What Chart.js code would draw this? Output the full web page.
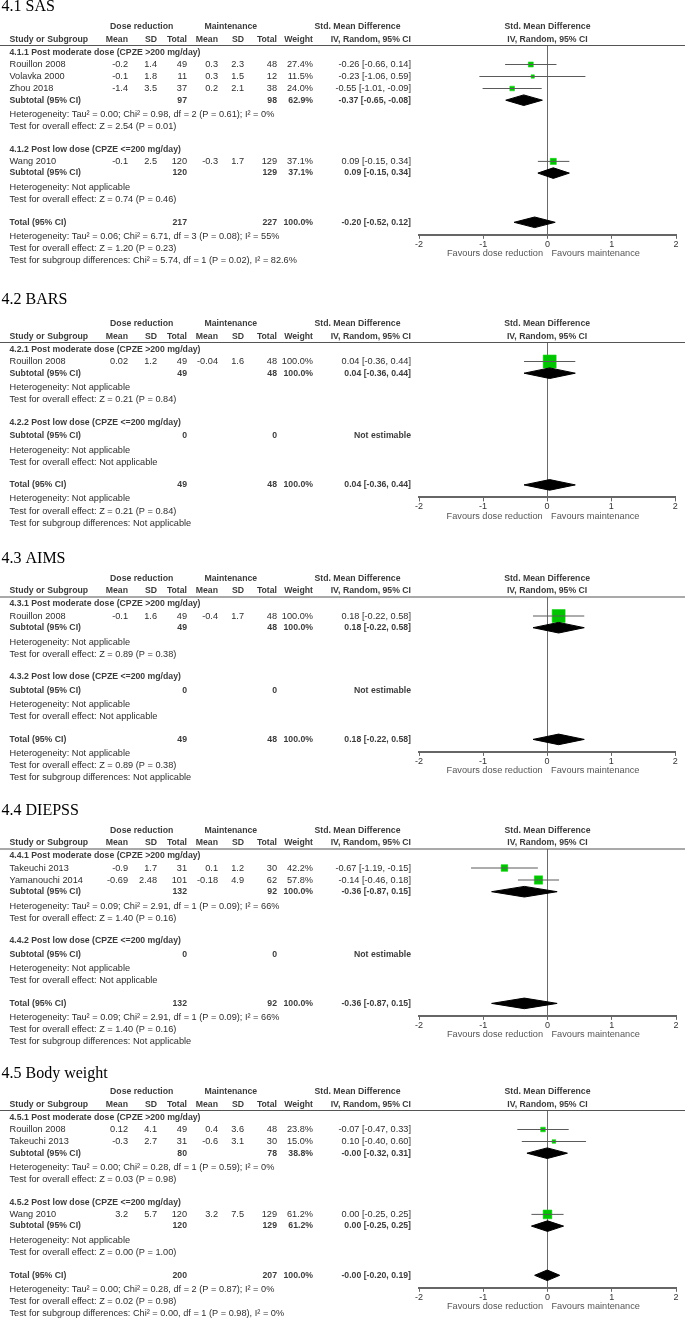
<!DOCTYPE html>
<html>
<head>
<meta charset="utf-8">
<script src="https://cdn.jsdelivr.net/npm/chart.js@4.4.1/dist/chart.umd.min.js"></script>
<style>
  html, body { margin: 0; padding: 0; background: #fff; }
  #page { position: relative; width: 685px; height: 1320px; overflow: hidden; }
  .panel { position: absolute; left: 0; width: 685px; }
</style>
</head>
<body>
<div id="page"></div>
<script>
// ------------------------------------------------------------
// Forest plots 4.1 - 4.5 (dose reduction vs maintenance)
// row: [type, label, ...]
//   study: mean1, sd1, n1, mean2, sd2, n2, weight, smd, lo, hi
//   sub / total: n1, n2, weight, smd, lo, hi  (null = not estimable)
// ------------------------------------------------------------

const PANEL_TITLES = ['4.1 SAS', '4.2 BARS', '4.3 AIMS', '4.4 DIEPSS', '4.5 Body weight'];

const SAS_ROWS = [
  ['head', '4.1.1 Post moderate dose (CPZE >200 mg/day)'],
  ['study', 'Rouillon 2008', -0.2, 1.4, 49, 0.3, 2.3, 48, 27.4, -0.26, -0.66, 0.14],
  ['study', 'Volavka 2000', -0.1, 1.8, 11, 0.3, 1.5, 12, 11.5, -0.23, -1.06, 0.59],
  ['study', 'Zhou 2018', -1.4, 3.5, 37, 0.2, 2.1, 38, 24.0, -0.55, -1.01, -0.09],
  ['sub', 'Subtotal (95% CI)', 97, 98, 62.9, -0.37, -0.65, -0.08],
  ['note', 'Heterogeneity: Tau² = 0.00; Chi² = 0.98, df = 2 (P = 0.61); I² = 0%'],
  ['note', 'Test for overall effect: Z = 2.54 (P = 0.01)'],
  ['head', '4.1.2 Post low dose (CPZE <=200 mg/day)'],
  ['study', 'Wang 2010', -0.1, 2.5, 120, -0.3, 1.7, 129, 37.1, 0.09, -0.15, 0.34],
  ['sub', 'Subtotal (95% CI)', 120, 129, 37.1, 0.09, -0.15, 0.34],
  ['note', 'Heterogeneity: Not applicable'],
  ['note', 'Test for overall effect: Z = 0.74 (P = 0.46)'],
  ['total', 'Total (95% CI)', 217, 227, 100.0, -0.20, -0.52, 0.12],
  ['note', 'Heterogeneity: Tau² = 0.06; Chi² = 6.71, df = 3 (P = 0.08); I² = 55%'],
  ['note', 'Test for overall effect: Z = 1.20 (P = 0.23)'],
  ['note', 'Test for subgroup differences: Chi² = 5.74, df = 1 (P = 0.02), I² = 82.6%'],
];

const BARS_ROWS = [
  ['head', '4.2.1 Post moderate dose (CPZE >200 mg/day)'],
  ['study', 'Rouillon 2008', 0.02, 1.2, 49, -0.04, 1.6, 48, 100.0, 0.04, -0.36, 0.44],
  ['sub', 'Subtotal (95% CI)', 49, 48, 100.0, 0.04, -0.36, 0.44],
  ['note', 'Heterogeneity: Not applicable'],
  ['note', 'Test for overall effect: Z = 0.21 (P = 0.84)'],
  ['head', '4.2.2 Post low dose (CPZE <=200 mg/day)'],
  ['sub', 'Subtotal (95% CI)', 0, 0, null, null, null, null],
  ['note', 'Heterogeneity: Not applicable'],
  ['note', 'Test for overall effect: Not applicable'],
  ['total', 'Total (95% CI)', 49, 48, 100.0, 0.04, -0.36, 0.44],
  ['note', 'Heterogeneity: Not applicable'],
  ['note', 'Test for overall effect: Z = 0.21 (P = 0.84)'],
  ['note', 'Test for subgroup differences: Not applicable'],
];

const AIMS_ROWS = [
  ['head', '4.3.1 Post moderate dose (CPZE >200 mg/day)'],
  ['study', 'Rouillon 2008', -0.1, 1.6, 49, -0.4, 1.7, 48, 100.0, 0.18, -0.22, 0.58],
  ['sub', 'Subtotal (95% CI)', 49, 48, 100.0, 0.18, -0.22, 0.58],
  ['note', 'Heterogeneity: Not applicable'],
  ['note', 'Test for overall effect: Z = 0.89 (P = 0.38)'],
  ['head', '4.3.2 Post low dose (CPZE <=200 mg/day)'],
  ['sub', 'Subtotal (95% CI)', 0, 0, null, null, null, null],
  ['note', 'Heterogeneity: Not applicable'],
  ['note', 'Test for overall effect: Not applicable'],
  ['total', 'Total (95% CI)', 49, 48, 100.0, 0.18, -0.22, 0.58],
  ['note', 'Heterogeneity: Not applicable'],
  ['note', 'Test for overall effect: Z = 0.89 (P = 0.38)'],
  ['note', 'Test for subgroup differences: Not applicable'],
];

const DIEPSS_ROWS = [
  ['head', '4.4.1 Post moderate dose (CPZE >200 mg/day)'],
  ['study', 'Takeuchi 2013', -0.9, 1.7, 31, 0.1, 1.2, 30, 42.2, -0.67, -1.19, -0.15],
  ['study', 'Yamanouchi 2014', -0.69, 2.48, 101, -0.18, 4.9, 62, 57.8, -0.14, -0.46, 0.18],
  ['sub', 'Subtotal (95% CI)', 132, 92, 100.0, -0.36, -0.87, 0.15],
  ['note', 'Heterogeneity: Tau² = 0.09; Chi² = 2.91, df = 1 (P = 0.09); I² = 66%'],
  ['note', 'Test for overall effect: Z = 1.40 (P = 0.16)'],
  ['head', '4.4.2 Post low dose (CPZE <=200 mg/day)'],
  ['sub', 'Subtotal (95% CI)', 0, 0, null, null, null, null],
  ['note', 'Heterogeneity: Not applicable'],
  ['note', 'Test for overall effect: Not applicable'],
  ['total', 'Total (95% CI)', 132, 92, 100.0, -0.36, -0.87, 0.15],
  ['note', 'Heterogeneity: Tau² = 0.09; Chi² = 2.91, df = 1 (P = 0.09); I² = 66%'],
  ['note', 'Test for overall effect: Z = 1.40 (P = 0.16)'],
  ['note', 'Test for subgroup differences: Not applicable'],
];

const WEIGHT_ROWS = [
  ['head', '4.5.1 Post moderate dose (CPZE >200 mg/day)'],
  ['study', 'Rouillon 2008', 0.12, 4.1, 49, 0.4, 3.6, 48, 23.8, -0.07, -0.47, 0.33],
  ['study', 'Takeuchi 2013', -0.3, 2.7, 31, -0.6, 3.1, 30, 15.0, 0.10, -0.40, 0.60],
  ['sub', 'Subtotal (95% CI)', 80, 78, 38.8, -0.004, -0.32, 0.31],
  ['note', 'Heterogeneity: Tau² = 0.00; Chi² = 0.28, df = 1 (P = 0.59); I² = 0%'],
  ['note', 'Test for overall effect: Z = 0.03 (P = 0.98)'],
  ['head', '4.5.2 Post low dose (CPZE <=200 mg/day)'],
  ['study', 'Wang 2010', 3.2, 5.7, 120, 3.2, 7.5, 129, 61.2, 0.00, -0.25, 0.25],
  ['sub', 'Subtotal (95% CI)', 120, 129, 61.2, 0.00, -0.25, 0.25],
  ['note', 'Heterogeneity: Not applicable'],
  ['note', 'Test for overall effect: Z = 0.00 (P = 1.00)'],
  ['total', 'Total (95% CI)', 200, 207, 100.0, -0.004, -0.20, 0.19],
  ['note', 'Heterogeneity: Tau² = 0.00; Chi² = 0.28, df = 2 (P = 0.87); I² = 0%'],
  ['note', 'Test for overall effect: Z = 0.02 (P = 0.98)'],
  ['note', 'Test for subgroup differences: Chi² = 0.00, df = 1 (P = 0.98), I² = 0%'],
];

const X_TICKS = [-2, -1, 0, 1, 2];
const FAVOURS = ['Favours dose reduction', 'Favours maintenance'];

// ---- layout constants ----
const LINE_Y = [45.5, 342.5, 597, 849, 1110.5];   // header rule of each panel
const TITLE_OFF = [-38.5, -42.5, -38.5, -38.5, -36.8];
const COL_RIGHT = [128, 157, 187, 218, 244, 277, 313, 411];
const TEXT_LEFT = 9.5;
const SANS = '"Liberation Sans", Arial, sans-serif';
const FONT = '9.2px ' + SANS;
const FONT_B = 'bold 8.7px ' + SANS;
const INK = '#2e2e2e';
const INK_B = '#3c3c3c';

function rowOffsets(rows) {
  const ys = [];
  let y = 0, prev = 'line';
  rows.forEach(r => {
    const t = r[0];
    let gap;
    if (t === 'head') gap = prev === 'line' ? 7 : 22.7;
    else if (t === 'study') gap = 12;
    else if (t === 'sub') gap = prev === 'study' ? 11.7 : 13.3;
    else if (t === 'total') gap = 22.7;
    else gap = prev === 'note' ? 12.2 : (prev === 'total' ? 14 : 14.3);
    y += gap;
    ys.push(y);
    prev = t;
  });
  return ys;
}

function ciText(est, lo, hi) {
  return est.toFixed(2) + ' [' + lo.toFixed(2) + ', ' + hi.toFixed(2) + ']';
}

const tablePlugin = {
  id: 'table',
  afterDraw(chart, args, o) {
    const { ctx, scales: { x, y } } = chart;
    const py = v => y.getPixelForValue(v);
    const x0 = x.getPixelForValue(0);
    ctx.save();
    ctx.textBaseline = 'middle';

    // title
    ctx.font = '16px "Liberation Serif", "Times New Roman", serif';
    ctx.fillStyle = '#000';
    ctx.textAlign = 'left';
    ctx.fillText(o.title, 1.5, py(o.titleOff));

    // header rule
    ctx.strokeStyle = '#555';
    ctx.lineWidth = 1.2;
    ctx.beginPath();
    ctx.moveTo(0, py(0));
    ctx.lineTo(685, py(0));
    ctx.stroke();

    // headers
    ctx.font = FONT_B;
    ctx.fillStyle = INK_B;
    ctx.textAlign = 'center';
    const h1 = py(-18.6), h2 = py(-6);
    ctx.fillText('Dose reduction', 141.7, h1);
    ctx.fillText('Maintenance', 230.8, h1);
    ctx.fillText('Std. Mean Difference', 357.5, h1);
    ctx.fillText('Std. Mean Difference', x0, h1);
    ctx.fillText('IV, Random, 95% CI', x0, h2);
    ctx.textAlign = 'left';
    ctx.fillText('Study or Subgroup', TEXT_LEFT, h2);
    ctx.textAlign = 'right';
    ['Mean', 'SD', 'Total', 'Mean', 'SD', 'Total', 'Weight', 'IV, Random, 95% CI']
      .forEach((s, i) => ctx.fillText(s, COL_RIGHT[i], h2));

    // rows
    o.rows.forEach((r, i) => {
      const yy = py(o.ys[i]);
      const t = r[0];
      ctx.textAlign = 'left';
      if (t === 'head') {
        ctx.font = FONT_B; ctx.fillStyle = INK_B;
        ctx.fillText(r[1], TEXT_LEFT, yy);
      } else if (t === 'note') {
        ctx.font = FONT; ctx.fillStyle = INK;
        ctx.fillText(r[1], TEXT_LEFT, yy);
      } else if (t === 'study') {
        ctx.font = FONT; ctx.fillStyle = INK;
        ctx.fillText(r[1], TEXT_LEFT, yy);
        ctx.textAlign = 'right';
        for (let c = 0; c < 6; c++) ctx.fillText(String(r[2 + c]), COL_RIGHT[c], yy);
        ctx.fillText(r[8].toFixed(1) + '%', COL_RIGHT[6], yy);
        ctx.fillText(ciText(r[9], r[10], r[11]), COL_RIGHT[7], yy);
      } else {
        ctx.font = FONT_B; ctx.fillStyle = INK_B;
        ctx.fillText(r[1], TEXT_LEFT, yy);
        ctx.textAlign = 'right';
        ctx.fillText(String(r[2]), COL_RIGHT[2], yy);
        ctx.fillText(String(r[3]), COL_RIGHT[5], yy);
        if (r[5] === null) {
          ctx.fillText('Not estimable', COL_RIGHT[7], yy);
        } else {
          ctx.fillText(r[4].toFixed(1) + '%', COL_RIGHT[6], yy);
          ctx.fillText(ciText(r[5], r[6], r[7]), COL_RIGHT[7], yy);
        }
      }
    });

    // favours labels
    const fy = chart.chartArea.bottom + 19;
    ctx.font = FONT;
    ctx.fillStyle = '#555';
    ctx.textAlign = 'right';
    ctx.fillText(FAVOURS[0], x0 - 4.5, fy);
    ctx.textAlign = 'left';
    ctx.fillText(FAVOURS[1], x0 + 4, fy);
    ctx.restore();
  }
};

function buildPanel(idx, rows) {
  const lineY = LINE_Y[idx];
  const ys = rowOffsets(rows);
  const totalIdx = rows.findIndex(r => r[0] === 'total');
  const axisOff = ys[totalIdx] + 12.5;
  const top = Math.max(0, Math.round(lineY - 52));
  const height = Math.ceil(lineY + ys[ys.length - 1] + 8 - top);
  const padTop = lineY - top;
  const axisH = 26;
  const padBottom = height - padTop - axisOff - axisH;

  const wrap = document.createElement('div');
  wrap.className = 'panel';
  wrap.style.top = top + 'px';
  wrap.style.height = height + 'px';
  const canvas = document.createElement('canvas');
  canvas.width = 685;
  canvas.height = height;
  wrap.appendChild(canvas);
  document.getElementById('page').appendChild(wrap);

  const datasets = [];
  const squares = [];
  const sizes = [];
  rows.forEach((r, i) => {
    const y = ys[i];
    if (r[0] === 'study') {
      datasets.push({
        type: 'line',
        data: [{ x: r[10], y }, { x: r[11], y }],
        borderColor: '#5a5a5a', borderWidth: 1, pointRadius: 0, fill: false,
      });
      squares.push({ x: r[9], y });
      const side = 2 + 11 * r[8] / 100;
      sizes.push(side / Math.SQRT2);
    } else if ((r[0] === 'sub' || r[0] === 'total') && r[5] !== null) {
      const est = r[5], lo = r[6], hi = r[7];
      datasets.push({
        type: 'line',
        data: [{ x: lo, y }, { x: est, y: y - 5.3 }, { x: hi, y }, { x: est, y: y + 5.3 }, { x: lo, y }],
        borderColor: '#000', borderWidth: 1, backgroundColor: '#000',
        pointRadius: 0, fill: 'shape', tension: 0,
      });
    }
  });
  datasets.push({
    type: 'scatter',
    data: squares,
    pointStyle: 'rect',
    pointRadius: sizes,
    backgroundColor: '#00c400',
    borderColor: '#1fd41f',
    borderWidth: 0.6,
  });

  new Chart(canvas, {
    type: 'scatter',
    data: { datasets },
    options: {
      responsive: false,
      animation: false,
      events: [],
      layout: { padding: { left: 419, right: 9, top: padTop, bottom: padBottom } },
      plugins: {
        legend: { display: false },
        tooltip: { enabled: false },
        table: { title: PANEL_TITLES[idx], titleOff: TITLE_OFF[idx], rows, ys },
      },
      scales: {
        x: {
          type: 'linear', min: -2, max: 2,
          afterBuildTicks: s => { s.ticks = X_TICKS.map(v => ({ value: v })); },
          ticks: { color: '#333', font: { family: SANS, size: 9 }, padding: 0, autoSkip: false, maxRotation: 0 },
          grid: {
            color: c => (c.tick && c.tick.value === 0 ? '#6a6a6a' : 'rgba(0,0,0,0)'),
            tickColor: '#666', tickLength: 4, lineWidth: 1,
          },
          border: { color: '#666', width: 2 },
          afterFit: s => { s.height = axisH; },
        },
        y: { type: 'linear', display: false, min: 0, max: axisOff, reverse: true },
      },
    },
    plugins: [tablePlugin],
  });
}

[SAS_ROWS, BARS_ROWS, AIMS_ROWS, DIEPSS_ROWS, WEIGHT_ROWS].forEach((rows, i) => buildPanel(i, rows));
</script>
</body>
</html>
